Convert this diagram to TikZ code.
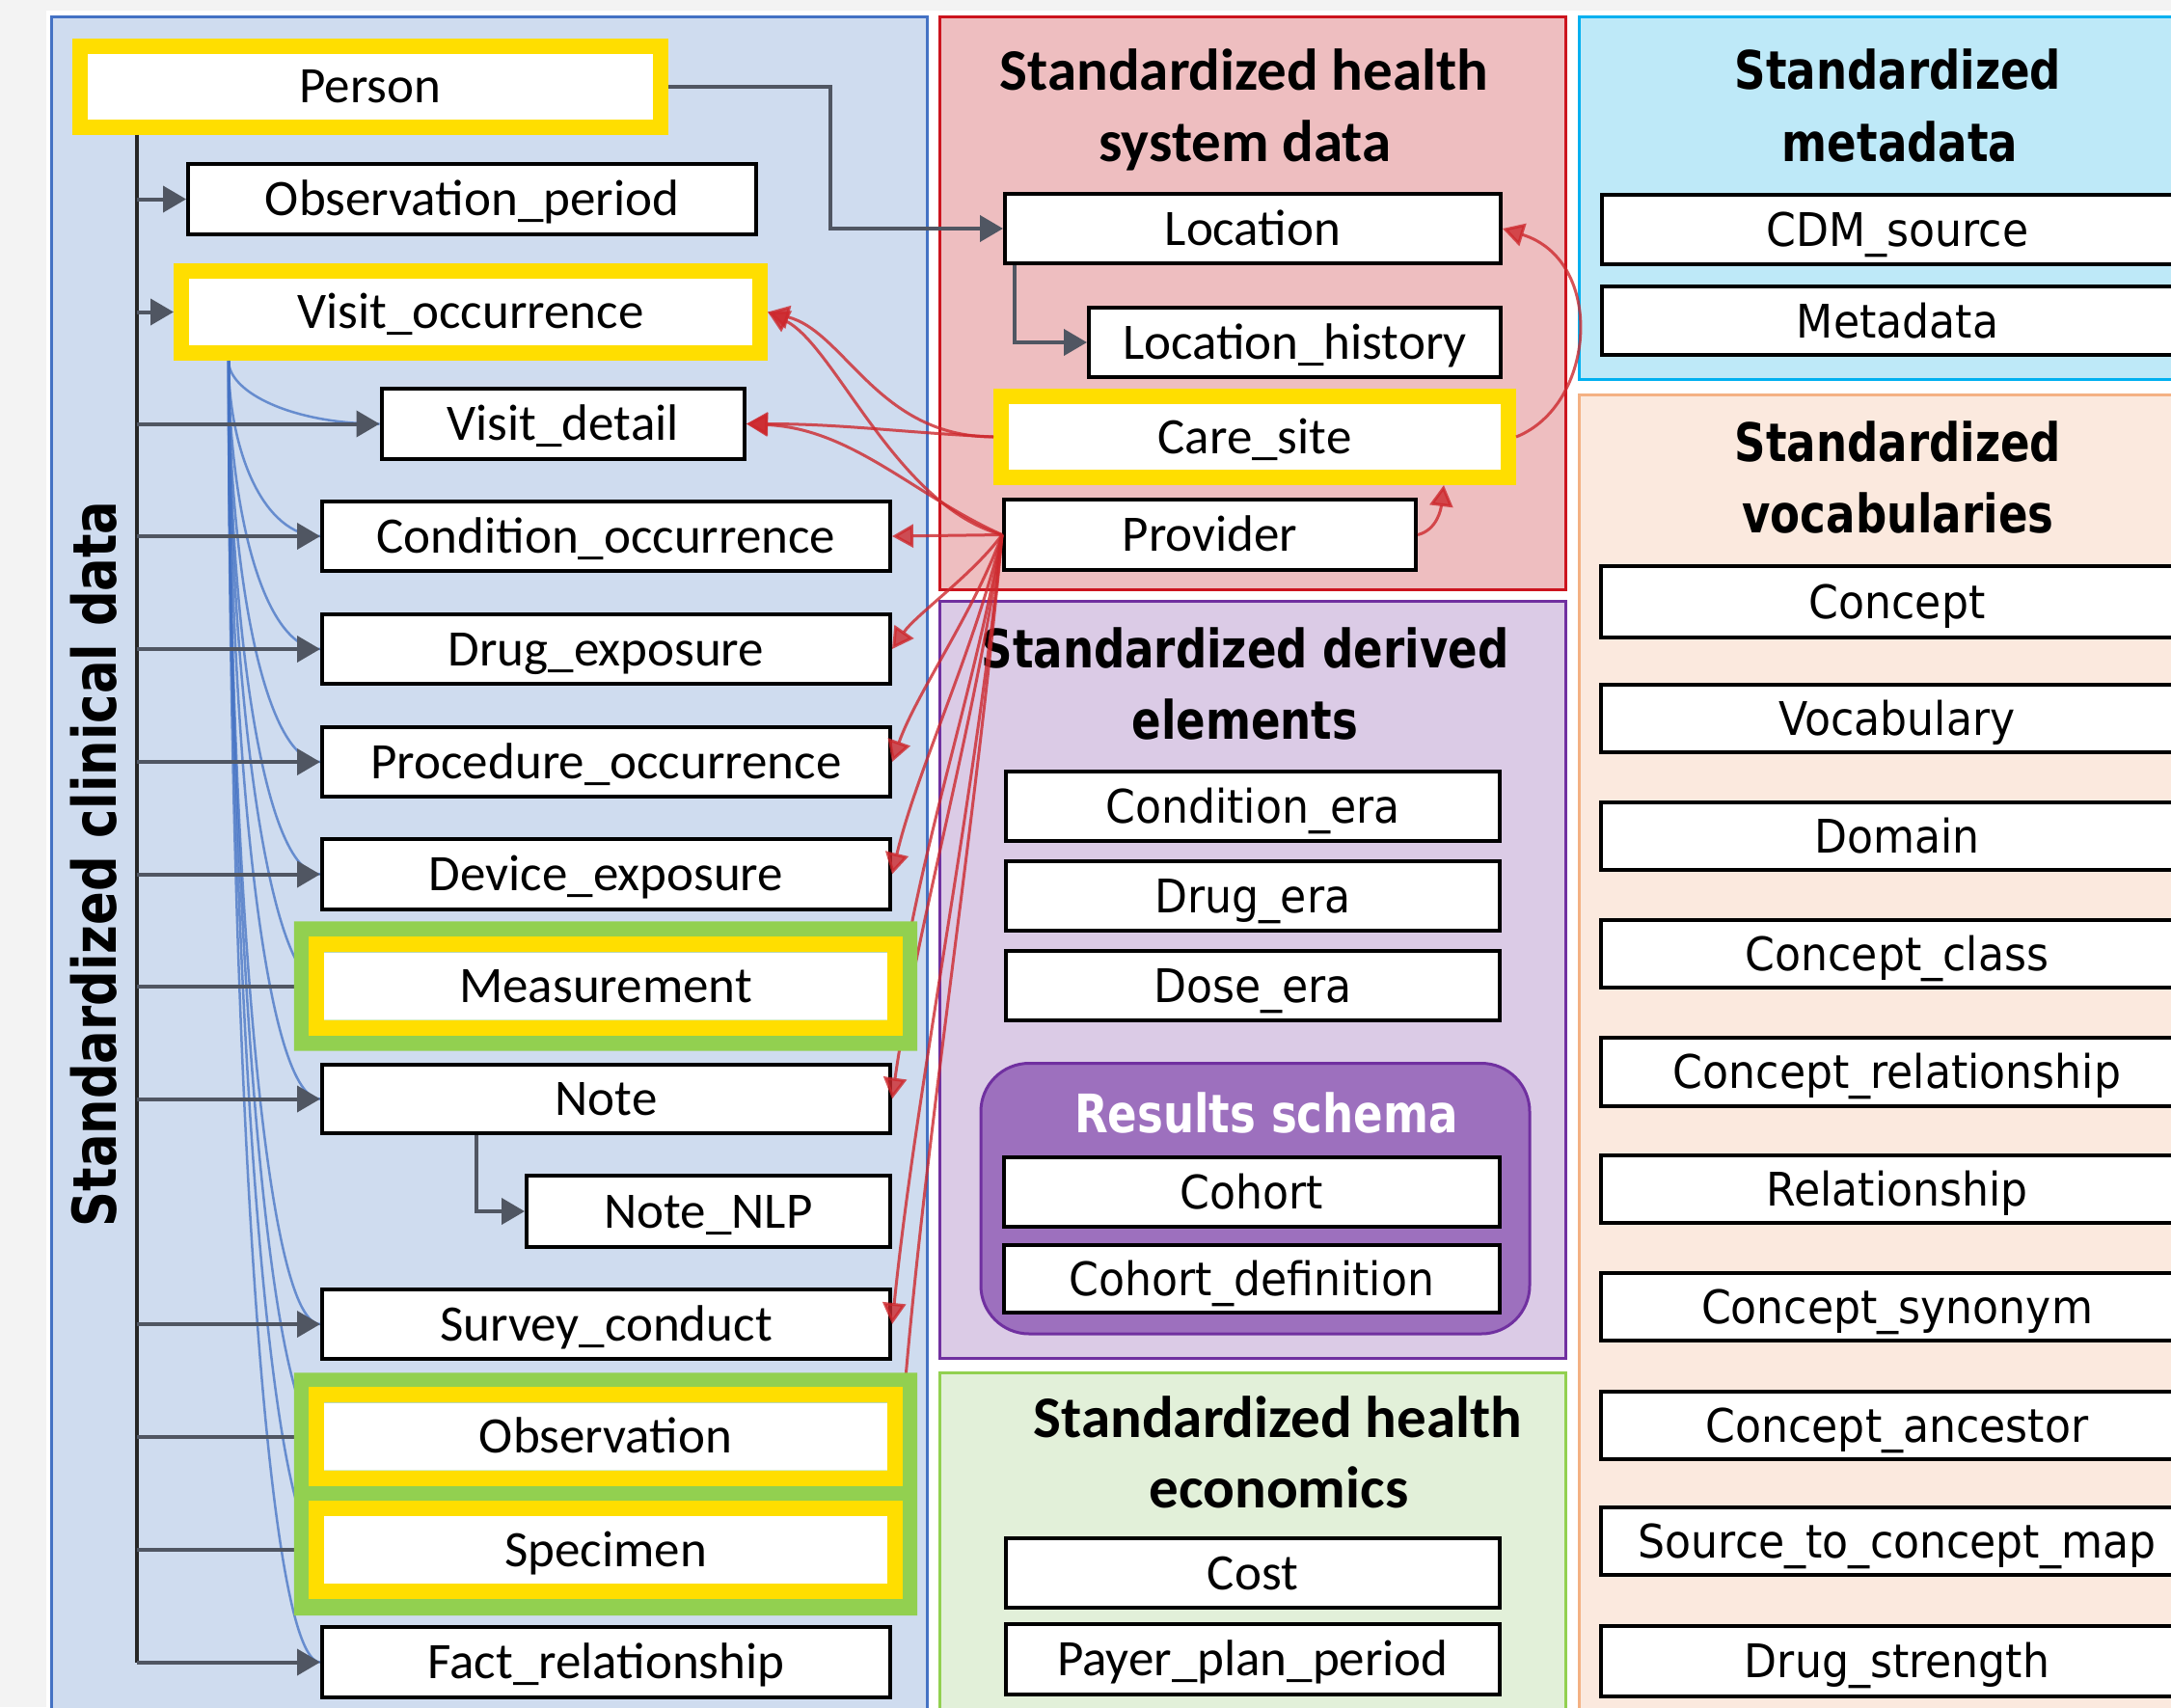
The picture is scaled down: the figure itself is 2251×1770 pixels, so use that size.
\documentclass[tikz,border=0pt]{standalone}
\usepackage{fontspec}
\setmainfont{Carlito}
\newfontfamily\tah[FakeStretch=0.92]{DejaVu Sans}
\newfontfamily\tahb[FakeStretch=0.82]{DejaVu Sans Bold}
\usetikzlibrary{arrows.meta}
\pgfdeclarelayer{bg}
\pgfdeclarelayer{fg}
\pgfsetlayers{bg,main,fg}
\definecolor{cliF}{RGB}{207,220,239}
\definecolor{cliB}{RGB}{68,114,196}
\definecolor{redF}{RGB}{238,190,192}
\definecolor{redB}{RGB}{204,20,30}
\definecolor{metF}{RGB}{190,233,248}
\definecolor{metB}{RGB}{0,176,240}
\definecolor{vocF}{RGB}{251,233,222}
\definecolor{vocB}{RGB}{244,177,131}
\definecolor{derF}{RGB}{219,203,230}
\definecolor{derB}{RGB}{112,48,160}
\definecolor{resF}{RGB}{157,112,190}
\definecolor{ecoF}{RGB}{226,240,217}
\definecolor{ecoB}{RGB}{146,208,80}
\definecolor{yel}{RGB}{255,222,0}
\definecolor{grn}{RGB}{146,208,80}
\definecolor{arrg}{RGB}{80,86,98}
\definecolor{lnred}{RGB}{205,40,45}
\definecolor{lnblue}{RGB}{68,114,196}
\definecolor{margin}{RGB}{243,243,243}
\tikzset{
 sz/.style 2 args={minimum width=#1pt, minimum height=#2pt},
 tbl/.style={draw=black, line width=4pt, fill=white, inner sep=0pt, text height=34pt, text depth=0pt, font=\fontsize{53}{64}\selectfont},
 tblT/.style={tbl, text height=35pt, font=\tah\fontsize{48}{58}\selectfont},
 ybox/.style={draw=yel, line width=16pt, fill=white, inner sep=0pt, text height=34pt, text depth=0pt, font=\fontsize{53}{64}\selectfont},
 wbox/.style={fill=white, inner sep=0pt, text height=34pt, text depth=0pt, font=\fontsize{53}{64}\selectfont},
 ttlC/.style={anchor=base, inner sep=0pt, font=\fontsize{61}{73}\selectfont\bfseries},
 ttlT/.style={anchor=base, inner sep=0pt, font=\tahb\fontsize{55}{66}\selectfont},
 panel/.style={line width=3pt},
 grayarr/.style={draw=arrg, line width=4pt, -{Triangle[length=24pt,width=27pt]}},
 trunkln/.style={draw=black!85, line width=3.5pt},
 redln/.style={draw=lnred, line width=3pt, opacity=0.8},
 redarr/.style={redln, -{Triangle[length=22pt,width=24pt]}},
 blueln/.style={draw=lnblue, line width=2.5pt, opacity=0.75},
}
\begin{document}
\begin{tikzpicture}[x=1pt,y=-1pt]
\path[use as bounding box] (0,0) rectangle (2251,1770);
\clip (0,0) rectangle (2251,1770);
\begin{pgfonlayer}{bg}
\fill[margin] (0,0) rectangle (2251,1770);
\fill[white] (48,11) rectangle (2260,1780);
\draw[panel, draw=cliB, fill=cliF] (53,17.5) rectangle (961,1790);
\draw[panel, draw=redB, fill=redF] (974,17.5) rectangle (1623.5,611);
\draw[panel, draw=metB, fill=metF] (1637,17.5) rectangle (2270,393.5);
\draw[panel, draw=vocB, fill=vocF] (1637,409) rectangle (2270,1790);
\draw[panel, draw=derB, fill=derF] (974.5,623.5) rectangle (1623.5,1408.5);
\draw[panel, draw=derB, fill=resF, rounded corners=50pt] (1017,1102.5) rectangle (1586,1383);
\draw[panel, draw=ecoB, fill=ecoF] (974.5,1423.5) rectangle (1623.5,1790);
\end{pgfonlayer}

% titles
\node[rotate=90, anchor=base, inner sep=0pt, font=\tahb\fontsize{62.5}{75}\selectfont] (tcli) at (120,896) {Standardized clinical data};
\node[ttlC] (thsd1) at (1290,93) {Standardized health};
\node[ttlC] (thsd2) at (1291,167) {system data};
\node[ttlT] (tmet1) at (1968,92) {Standardized};
\node[ttlT] (tmet2) at (1970,167) {metadata};
\node[ttlT] (tvoc1) at (1968,478) {Standardized};
\node[ttlT] (tvoc2) at (1968,552) {vocabularies};
\node[ttlT] (tder1) at (1291,692) {Standardized derived};
\node[ttlT] (tder2) at (1291,766) {elements};
\node[ttlC] (teco1) at (1325,1490) {Standardized health};
\node[ttlC] (teco2) at (1326,1563) {economics};
\node[ttlT, text=white] (tres) at (1313,1174) {Results schema};

% clinical tables
\node[ybox, sz={602}{84}] (person) at (384,89.5) {Person};
\node[tbl, sz={589}{73}] (obsp) at (489.5,206.5) {Observation\_period};
\node[ybox, sz={600}{85}] (visocc) at (488,323.5) {Visit\_occurrence};
\node[tbl, sz={376.5}{73}] (visdet) at (583.75,439.5) {Visit\_detail};
\node[tbl, sz={589}{72}] (cond) at (628.5,556) {Condition\_occurrence};
\node[tbl, sz={589}{72}] (drug) at (628.5,673) {Drug\_exposure};
\node[tbl, sz={589}{72}] (proc) at (628.5,790) {Procedure\_occurrence};
\node[tbl, sz={589}{73}] (dev) at (628.5,906.5) {Device\_exposure};
\node[wbox, sz={584}{70}] (meas) at (628,1022.5) {Measurement};
\node[tbl, sz={589}{71}] (note) at (628.5,1139.5) {Note};
\node[tbl, sz={377}{74}] (nlp) at (734.5,1256) {Note\_NLP};
\node[tbl, sz={589}{72}] (survey) at (628.5,1373) {Survey\_conduct};
\node[wbox, sz={584}{70}] (obs) at (628,1489.5) {Observation};
\node[wbox, sz={584}{70}] (spec) at (628,1607) {Specimen};
\node[tbl, sz={589}{73}] (fact) at (628.5,1723.5) {Fact\_relationship};

% health system
\node[tbl, sz={514}{72}] (loc) at (1299,237) {Location};
\node[tbl, sz={427}{72}] (lochist) at (1342.5,355) {Location\_history};
\node[ybox, sz={526}{84}] (care) at (1301,453) {Care\_site};
\node[tbl, sz={427}{73}] (prov) at (1254.5,554.5) {Provider};

% derived
\node[tblT, sz={512}{72}] (condera) at (1299,836) {Condition\_era};
\node[tblT, sz={512}{72}] (drugera) at (1299,929) {Drug\_era};
\node[tblT, sz={512}{72}] (doseera) at (1299,1021.5) {Dose\_era};
\node[tblT, sz={514}{72}] (cohort) at (1298,1236) {Cohort};
\node[tblT, sz={514}{70}] (cohortdef) at (1298,1326) {Cohort\_definition};

% economics
\node[tbl, sz={512}{72}] (cost) at (1299,1631) {Cost};
\node[tbl, sz={512}{73}] (payer) at (1299,1720.5) {Payer\_plan\_period};

% metadata
\node[tblT, sz={613}{72}] (cdm) at (1967.5,238) {CDM\_source};
\node[tblT, sz={613}{71}] (meta) at (1967.5,332.5) {Metadata};

% vocabularies
\node[tblT, sz={614}{74}] (concept) at (1967,624) {Concept};
\node[tblT, sz={614}{70}] (vocab) at (1967,745) {Vocabulary};
\node[tblT, sz={614}{70}] (domain) at (1967,867) {Domain};
\node[tblT, sz={614}{70}] (cclass) at (1967,989) {Concept\_class};
\node[tblT, sz={614}{71}] (crel) at (1967,1111) {Concept\_relationship};
\node[tblT, sz={614}{70}] (rel) at (1967,1233) {Relationship};
\node[tblT, sz={614}{70}] (csyn) at (1967,1355) {Concept\_synonym};
\node[tblT, sz={614}{70}] (canc) at (1967,1478) {Concept\_ancestor};
\node[tblT, sz={614}{70}] (s2c) at (1967,1598) {Source\_to\_concept\_map};
\node[tblT, sz={614}{73}] (dstr) at (1967,1722) {Drug\_strength};

% blue curves from Visit_occurrence
\coordinate (vsrc) at ([xshift=57pt]visocc.south west);
\foreach \t/\h/\c in {visdet/33/90, cond/91/60, drug/150/60, proc/208/60, dev/266/60, meas/324/60, note/383/60, survey/500/60, obs/558/60, spec/617/60, fact/675/60}
  \draw[blueln] (vsrc) .. controls +(0,\h) and +(-\c,0) .. (\t.west);

% gray trunk from Person
\coordinate (trunk) at ([xshift=67pt]person.south west);
\draw[trunkln] (trunk) -- (trunk |- fact.west);
\foreach \t in {obsp, visocc, visdet, cond, drug, proc, dev, meas, note, survey, obs, spec, fact}
  \draw[grayarr] (trunk |- \t.west) -- (\t.west);
\draw[grayarr] (person.east) -- ++(168,0) |- (loc.west);
\draw[grayarr] ([xshift=12pt]loc.south west) |- (lochist.west);
\draw[grayarr] ([xshift=162pt]note.south west) |- (nlp.west);

% red connectors
\draw[redarr] (care.west) .. controls +(-120,0) and +(80,20) .. (visocc.east);
\draw[redarr] (care.west) .. controls +(-100,-5) and +(100,0) .. (visdet.east);
\draw[redarr] (prov.west) .. controls +(-110,-30) and +(70,35) .. (visocc.east);
\draw[redarr] (prov.west) .. controls +(-90,-40) and +(110,5) .. (visdet.east);
\draw[redarr] (prov.west) -- (cond.east);
\draw[redarr] (prov.west) .. controls +(-30,41) and +(25,-36) .. (drug.east);
\draw[redarr] (prov.west) .. controls +(-30,82) and +(25,-71) .. (proc.east);
\draw[redarr] (prov.west) .. controls +(-30,123) and +(25,-106) .. (dev.east);
\draw[redln] (prov.west) .. controls +(-30,164) and +(20,-140) .. ([xshift=14pt]meas.east);
\draw[redarr] (prov.west) .. controls +(-30,205) and +(25,-176) .. (note.east);
\draw[redarr] (prov.west) .. controls +(-30,286) and +(25,-246) .. (survey.east);
\draw[redln] (prov.west) .. controls +(-30,327) and +(20,-280) .. ([xshift=14pt]obs.east);
\draw[redarr] (prov.east) .. controls +(20,-5) and +(-3,25) .. ([xshift=-75pt]care.south east);
\draw[redarr] (care.east) .. controls +(83,-33) and +(107,33) .. (loc.east);

% highlight frames
\begin{pgfonlayer}{fg}
\fill[grn, even odd rule] ([shift={(-31,-32)}]meas.north west) rectangle ([shift={(31,32)}]meas.south east)
   (meas.north west) rectangle (meas.south east);
\draw[yel, line width=16pt] ([shift={(-8,-8)}]meas.north west) rectangle ([shift={(8,8)}]meas.south east);
\fill[grn, even odd rule] ([shift={(-31,-31)}]obs.north west) rectangle ([shift={(31,33)}]spec.south east)
   (obs.north west) rectangle (obs.south east)
   (spec.north west) rectangle (spec.south east);
\draw[yel, line width=16pt] ([shift={(-8,-8)}]obs.north west) rectangle ([shift={(8,8)}]obs.south east);
\draw[yel, line width=16pt] ([shift={(-8,-8)}]spec.north west) rectangle ([shift={(8,8)}]spec.south east);
\end{pgfonlayer}
\end{tikzpicture}
\end{document}
